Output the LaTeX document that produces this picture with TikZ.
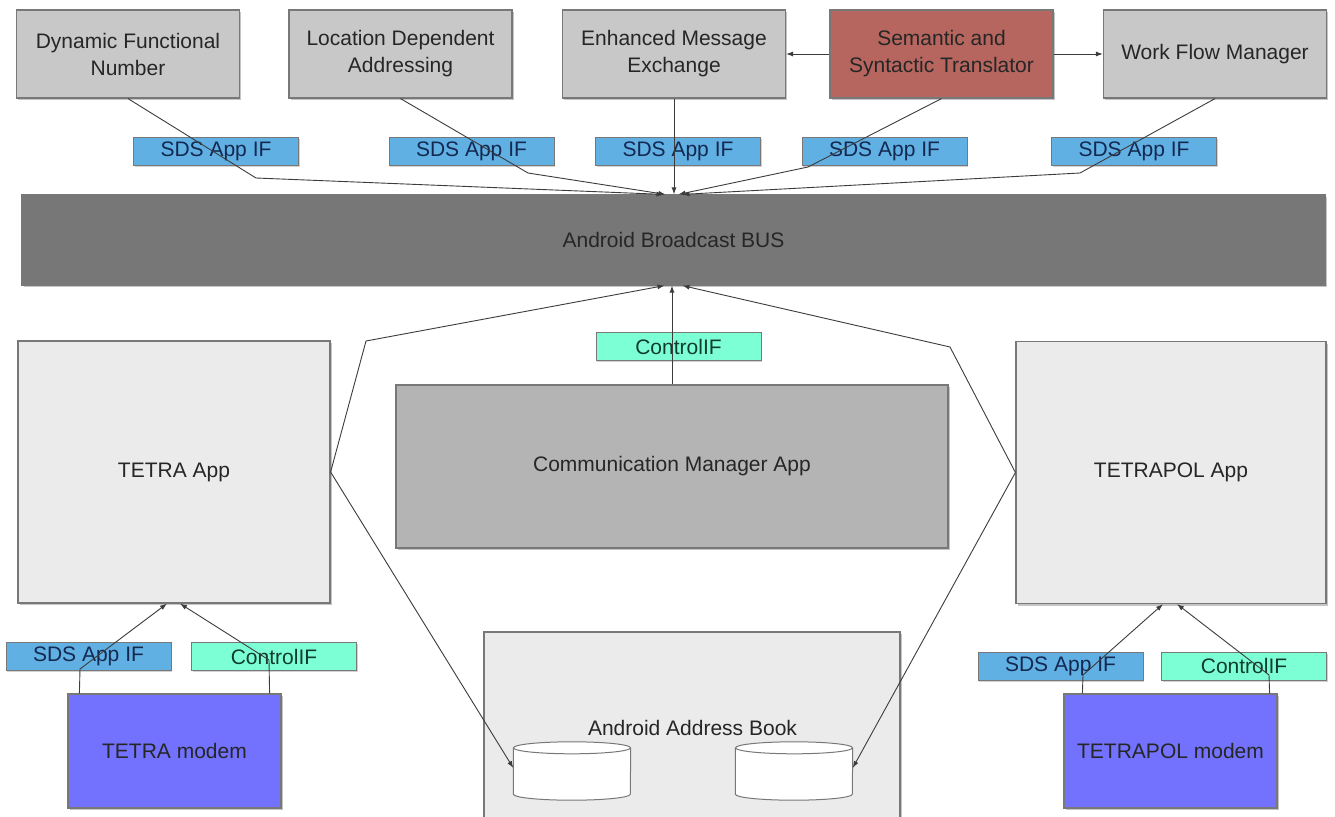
\documentclass[tikz,border=0pt]{standalone}
\usepackage{fontspec}
\setmainfont{Liberation Sans}
\usetikzlibrary{arrows.meta,shadows,calc}
\definecolor{topgray}{RGB}{200,200,200}
\definecolor{busgray}{RGB}{119,119,119}
\definecolor{cmgray}{RGB}{180,180,180}
\definecolor{appgray}{RGB}{235,235,235}
\definecolor{sdsblue}{RGB}{96,176,228}
\definecolor{ctrlgreen}{RGB}{125,255,214}
\definecolor{modemblue}{RGB}{114,114,255}
\definecolor{sstred}{RGB}{182,102,94}
\definecolor{linegray}{RGB}{60,60,60}
\definecolor{bordergray}{RGB}{120,120,120}
\definecolor{sdstext}{RGB}{20,40,80}
\definecolor{ctrltext}{RGB}{15,60,45}
\begin{document}
\begin{tikzpicture}[x=1pt,y=-1pt,
  every node/.style={font=\fontsize{21}{27}\selectfont, text=black!85, inner sep=0pt, align=center},
  box/.style={draw=bordergray, line width=1.2pt,
    drop shadow={shadow xshift=1.5pt, shadow yshift=-2pt, opacity=0.45}},
  topbox/.style={box, fill=topgray, minimum width=223, minimum height=88},
  lbl/.style={draw=bordergray, line width=1pt, minimum width=165, minimum height=28,
    drop shadow={shadow xshift=1pt, shadow yshift=-1.5pt, opacity=0.35}},
  sds/.style={lbl, fill=sdsblue, text=sdstext},
  ctrl/.style={lbl, fill=ctrlgreen, text=ctrltext},
  conn/.style={draw=linegray, line width=0.9pt, -{Latex[length=7pt,width=5pt]}}
]
\path[use as bounding box] (0,0) rectangle (1335,816);
\clip (0,0) rectangle (1335,816);
\fill[white] (0,0) rectangle (1335,816);

% top row
\node[topbox] (dfn) at (128,54) {Dynamic Functional\\Number};
\node[topbox] (lda) at (400.5,54) {Location Dependent\\Addressing};
\node[topbox] (eme) at (674,54) {Enhanced Message\\Exchange};
\node[topbox, fill=sstred] (sst) at (941.5,54) {Semantic and\\Syntactic Translator};
\node[topbox] (wfm) at (1215,54) {Work Flow Manager};

% SDS labels top
\node[sds] (s1) at (216,151.5) {SDS App IF};
\node[sds] (s2) at (471.5,151.5) {SDS App IF};
\node[sds] (s3) at (678,151.5) {SDS App IF};
\node[sds] (s4) at (884.5,151.5) {SDS App IF};
\node[sds] (s5) at (1134,151.5) {SDS App IF};

% bus
\node[box, fill=busgray, minimum width=1303, minimum height=90] (bus) at (673.5,240) {Android Broadcast BUS};

% middle
\node[box, fill=appgray, minimum width=312, minimum height=262] (tapp) at (174,472) {TETRA App};
\node[box, fill=cmgray, minimum width=552, minimum height=163] (cm) at (672,466.5) {Communication Manager App};
\node[box, fill=appgray, minimum width=310, minimum height=262] (tpapp) at (1171,472.5) {TETRAPOL App};
\node[ctrl] (cmc) at (678.5,346.5) {ControlIF};

% address book
\node[box, fill=appgray, minimum width=416, minimum height=216] (book) at (692,740) {};
\node (booktext) at (692.5,728) {Android Address Book};
\foreach \n/\cx in {cyl1/572, cyl2/794}{
  \node[minimum width=117, minimum height=58] (\n) at (\cx,771) {};
  \filldraw[fill=white, draw=bordergray, line width=1pt]
    ($(\n.north west)+(0,6)$) -- ($(\n.south west)+(0,-6)$)
    arc[start angle=180, end angle=360, x radius=58.5pt, y radius=6pt]
    -- ($(\n.north east)+(0,6)$);
  \filldraw[fill=white, draw=bordergray, line width=1pt]
    ($(\n.north)+(0,6)$) ellipse [x radius=58.5pt, y radius=6pt];
}

% bottom left
\node[sds] (sl) at (88.5,656.5) {SDS App IF};
\node[ctrl] (cl) at (274,656.5) {ControlIF};
\node[box, fill=modemblue, minimum width=213, minimum height=114] (tmod) at (174.5,751) {TETRA modem};

% bottom right
\node[sds] (sr) at (1060.5,666) {SDS App IF};
\node[ctrl] (cr) at (1244,666) {ControlIF};
\node[box, fill=modemblue, minimum width=213, minimum height=114] (tpmod) at (1170.5,751) {TETRAPOL modem};

% top connectors
\draw[conn] (sst) -- (eme);
\draw[conn] (sst) -- (wfm);
\draw[conn] (dfn.south) -- (256,178) -- ($(bus.north)+(-10,0)$);
\draw[conn] (lda.south) -- (528,173) -- ($(bus.north)+(-8,0)$);
\draw[conn] (eme.south) -- (eme.south |- bus.north);
\draw[conn] (sst.south) -- (808,167) -- ($(bus.north)+(5,0)$);
\draw[conn] (wfm.south) -- (1080,173) -- ($(bus.north)+(9,0)$);

% middle connectors
\draw[conn] (cm.north) -- (cm.north |- bus.south);
\draw[conn] (tapp.east) -- (366,341) -- ($(bus.south)+(-9,0)$);
\draw[conn] (tpapp.west) -- (950,347) -- ($(bus.south)+(9,0)$);
\draw[conn] (tapp.east) -- ($(cyl1.west)+(0,-3)$);
\draw[conn] (tpapp.west) -- ($(cyl2.east)+(0,-3)$);

% bottom connectors
\draw[conn] ($(tmod.north west)+(12,0)$) -- (80,669) -- ($(tapp.south)+(-7,0)$);
\draw[conn] ($(tmod.north east)+(-12,0)$) -- (269,660) -- ($(tapp.south)+(6,0)$);
\draw[conn] ($(tpmod.north west)+(19,0)$) -- (1083,675) -- ($(tpapp.south)+(-8,0)$);
\draw[conn] ($(tpmod.north east)+(-8,0)$) -- (1269,675) -- ($(tpapp.south)+(6,0)$);
\end{tikzpicture}
\end{document}
